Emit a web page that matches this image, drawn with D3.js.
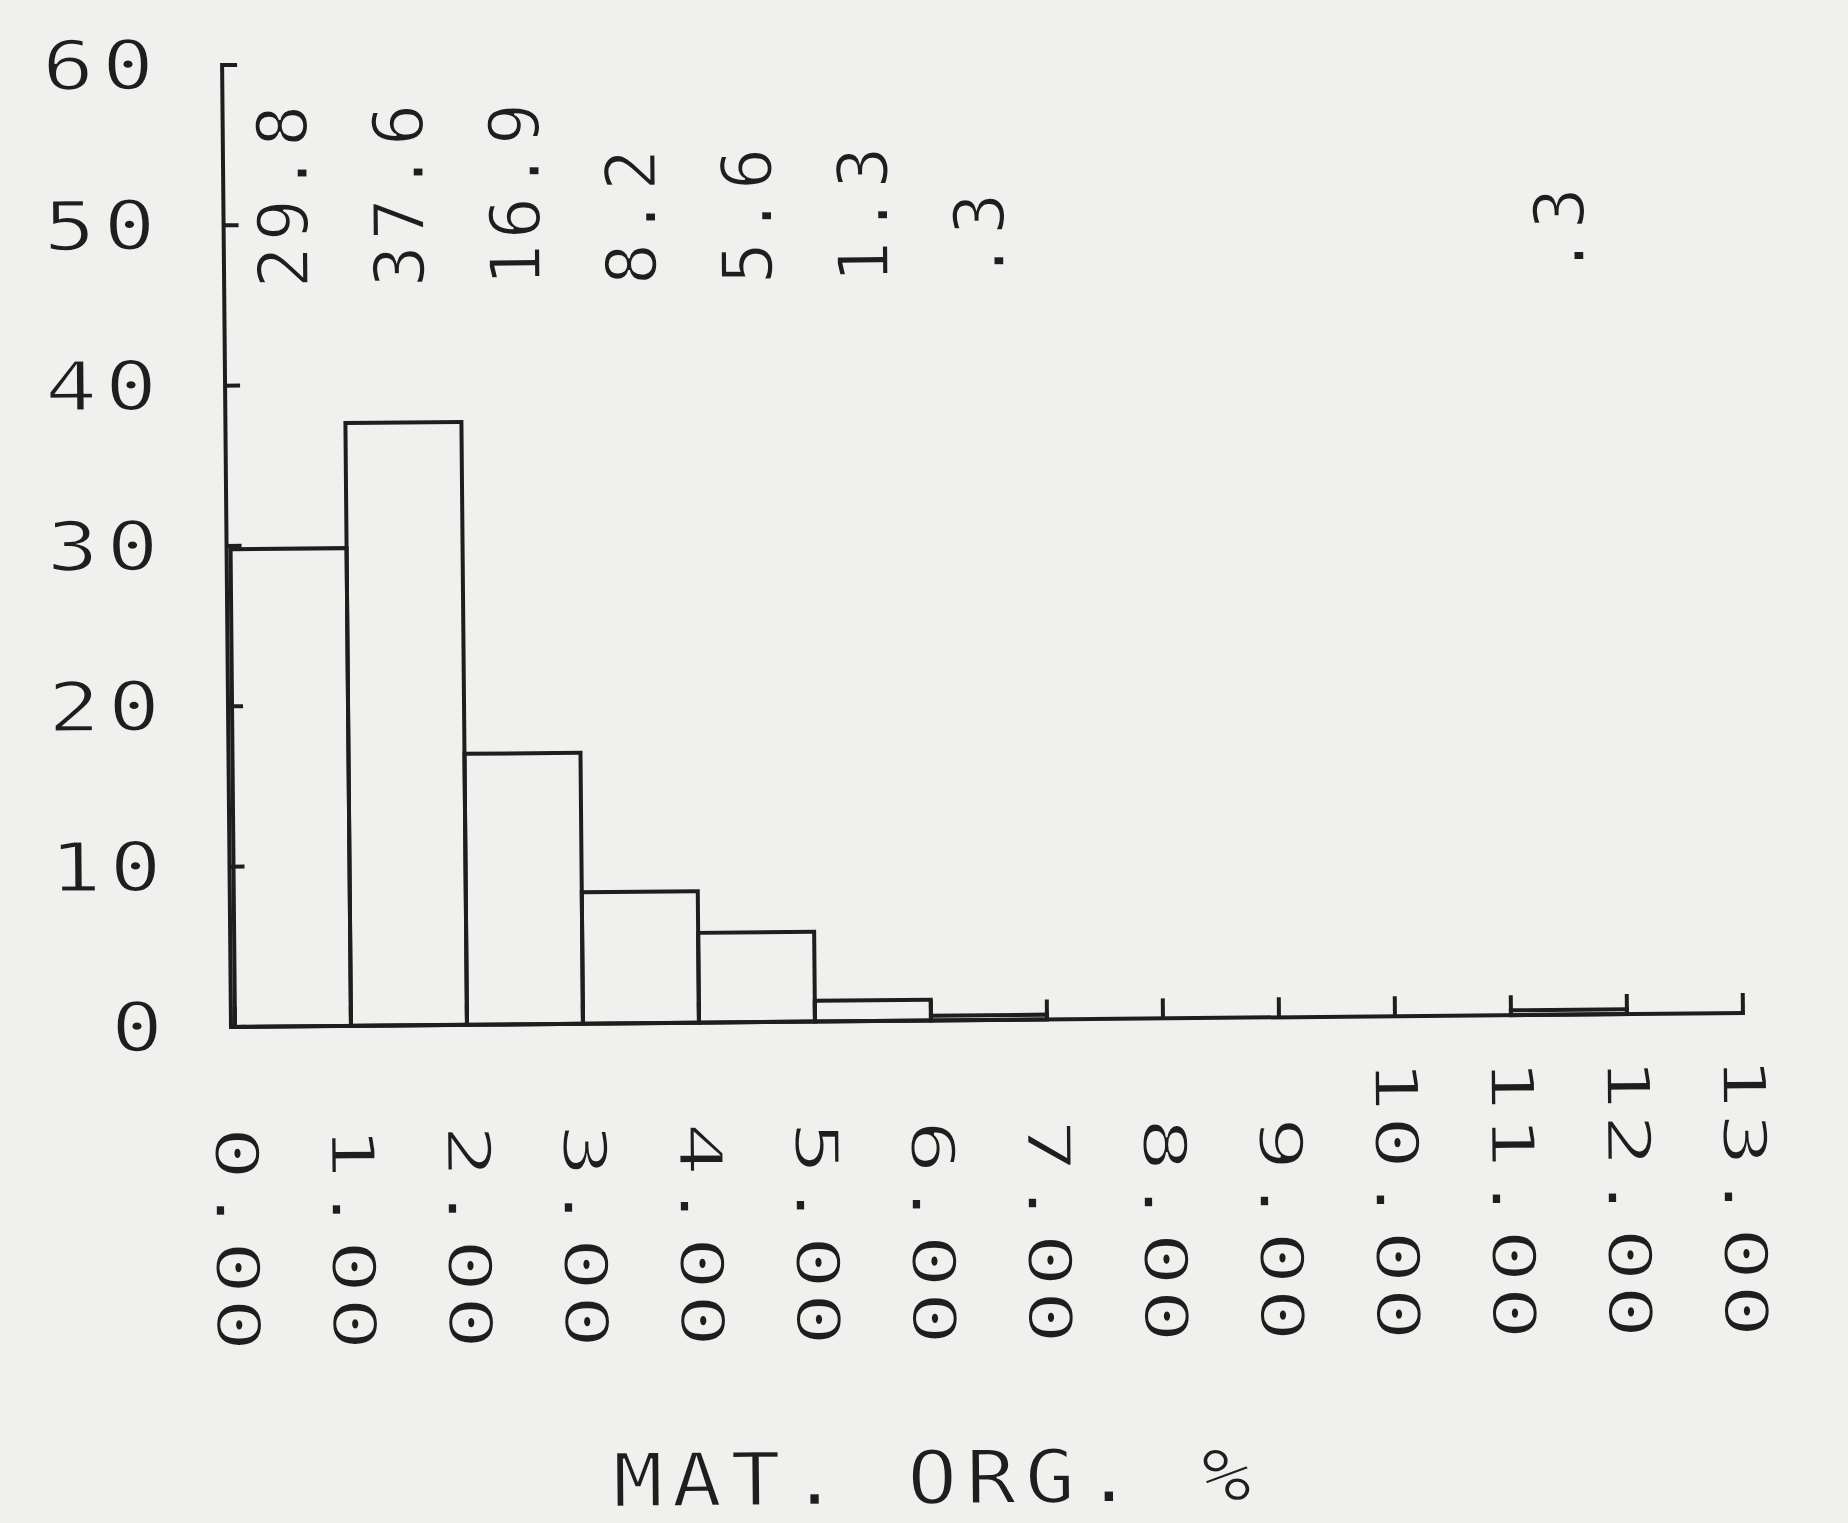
<!DOCTYPE html>
<html>
<head>
<meta charset="utf-8">
<script src="https://cdn.jsdelivr.net/npm/d3@7"></script>
<style>
  html, body { margin: 0; padding: 0; background: #f0f0ee; }
  svg { display: block; }
  text { font-family: "DejaVu Sans Mono", monospace; fill: #1e1e1e; }
  text.thin { stroke: #f0f0ee; stroke-width: 1.6; paint-order: fill; }
</style>
</head>
<body>
<script>
// ---- data ----
const binStarts = [0, 1, 2, 3, 4, 5, 6, 7, 8, 9, 10, 11, 12];
const binValues = [29.8, 37.6, 16.9, 8.2, 5.6, 1.3, 0.3, 0, 0, 0, 0, 0.3, 0];
const barLabels = ["29.8", "37.6", "16.9", "8.2", "5.6", "1.3", ".3", "", "", "", "", ".3", ""];
const xTickValues = [0, 1, 2, 3, 4, 5, 6, 7, 8, 9, 10, 11, 12, 13];
const xTickLabels = ["0.00", "1.00", "2.00", "3.00", "4.00", "5.00", "6.00", "7.00", "8.00", "9.00", "10.00", "11.00", "12.00", "13.00"];
const yTickValues = [0, 10, 20, 30, 40, 50, 60];
const yTickLabels = ["0", "10", "20", "30", "40", "50", "60"];
const xTitle = "MAT. ORG. %";

// ---- layout ----
const W = 1848, H = 1523;
const ink = "#1e1e1e";
const lw = 4;
const svg = d3.select("body").append("svg").attr("width", W).attr("height", H);
svg.append("rect").attr("width", W).attr("height", H).attr("fill", "#f0f0ee");

const x = d3.scaleLinear().domain([0, 13]).range([235, 1743]);
const y = d3.scaleLinear().domain([0, 60]).range([1027, 65]);
const axisX = 231;

// the scanned original sits slightly tilted
const g = svg.append("g").attr("transform", `rotate(-0.53, 230, 1027)`);

// Y axis line + inward ticks
g.append("line").attr("x1", axisX).attr("x2", axisX).attr("y1", y(60)).attr("y2", y(0))
  .attr("stroke", ink).attr("stroke-width", lw).attr("stroke-linecap", "square");
g.selectAll(".ytick").data(yTickValues).join("line")
  .attr("x1", axisX).attr("x2", axisX + 15)
  .attr("y1", d => y(d)).attr("y2", d => y(d))
  .attr("stroke", ink).attr("stroke-width", lw);

// Y tick labels (wide plotter glyphs)
const ySx = 1.27, ySp = 6.3;
g.selectAll(".ylab").data(yTickValues).join("text")
  .attr("class", "thin")
  .attr("transform", d => `translate(${163 + ySp * ySx},${y(d)}) scale(${ySx},1)`)
  .attr("dy", "0.34em")
  .attr("text-anchor", "end")
  .attr("font-size", 68)
  .attr("letter-spacing", ySp)
  .text((d, i) => yTickLabels[i]);

// X axis baseline + inward ticks
g.append("line").attr("x1", axisX).attr("x2", x(13)).attr("y1", y(0)).attr("y2", y(0))
  .attr("stroke", ink).attr("stroke-width", lw).attr("stroke-linecap", "square");
g.selectAll(".xtick").data(xTickValues).join("line")
  .attr("x1", d => x(d)).attr("x2", d => x(d))
  .attr("y1", y(0)).attr("y2", y(0) - 20)
  .attr("stroke", ink).attr("stroke-width", lw);

// Bars
const bars = binStarts.map((s, i) => ({ s, v: binValues[i], label: barLabels[i] }));
g.selectAll(".bar").data(bars.filter(d => d.v > 0)).join("rect")
  .attr("x", d => x(d.s)).attr("width", d => x(d.s + 1) - x(d.s))
  .attr("y", d => y(d.v)).attr("height", d => y(0) - y(d.v))
  .attr("fill", "none").attr("stroke", ink).attr("stroke-width", lw);

// Bar value labels (rotated, reading upward)
g.selectAll(".blab").data(bars.filter(d => d.label !== "")).join("text")
  .attr("class", "thin")
  .attr("transform", d => `translate(${(x(d.s) + x(d.s + 1)) / 2 - 3},289) rotate(-90)`)
  .attr("dy", "0.36em")
  .attr("text-anchor", "start")
  .attr("font-size", 70)
  .attr("letter-spacing", 5)
  .text(d => d.label);

// X tick labels (rotated, reading downward, end-aligned at bottom)
const xSx = 1.5, xSp = 2;
g.selectAll(".xlab").data(xTickValues).join("text")
  .attr("class", "thin")
  .attr("transform", d => `translate(${x(d) + 1},${1352 + xSp * xSx}) rotate(90) scale(${xSx},1)`)
  .attr("dy", "0.36em")
  .attr("text-anchor", "end")
  .attr("font-size", 60)
  .attr("letter-spacing", xSp)
  .text((d, i) => xTickLabels[i]);

// X title
const tSx = 1.12, tSp = 8;
g.append("text")
  .attr("class", "thin")
  .attr("transform", `translate(${928 + tSp * tSx / 2},1510) scale(${tSx},1)`)
  .attr("text-anchor", "middle")
  .attr("font-size", 74)
  .attr("letter-spacing", tSp)
  .text(xTitle);
</script>
</body>
</html>
